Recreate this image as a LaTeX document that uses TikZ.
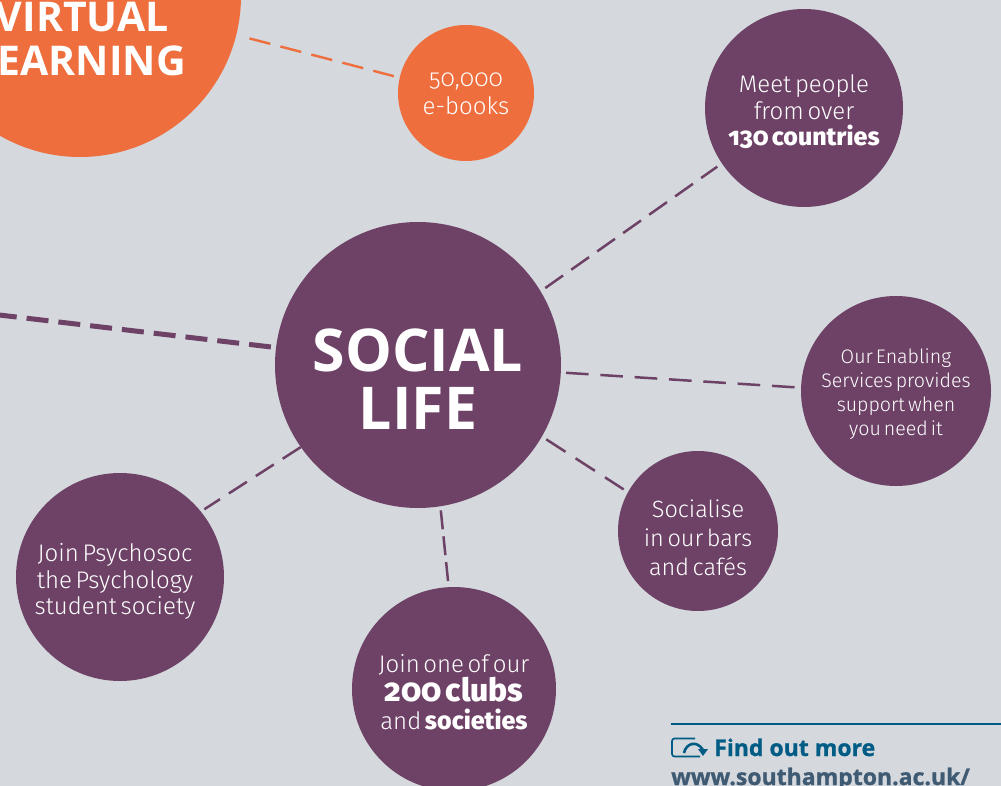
\documentclass[tikz,border=0pt]{standalone}
\usepackage{fontspec}
\setmainfont{Fira Sans Light}[BoldFont={Fira Sans ExtraBold},Numbers=OldStyle,WordSpace=0.55]
\newfontfamily\headfont{Open Sans}[BoldFont={Open Sans Bold}]
\newfontfamily\footfont{Open Sans Bold}[FakeBold=1]
\definecolor{bgc}{HTML}{D5D8DD}
\definecolor{plum}{HTML}{6D4266}
\definecolor{orangec}{HTML}{EE6E3E}
\definecolor{bluec}{HTML}{005C85}
\definecolor{urlc}{HTML}{3F5A73}
\newcommand{\fsl}[2]{\fontsize{#1}{#2}\selectfont}
\tikzset{
  bub/.style={circle,fill=plum,inner sep=0pt,minimum size=#1},
  obub/.style={circle,fill=orangec,inner sep=0pt,minimum size=#1},
  lbl/.style={text=white,inner sep=0pt,align=center},
  link/.style={draw=plum,line width=2.5pt},
  olink/.style={draw=orangec,line width=2.4pt,dash pattern=on 21.5pt off 10.5pt},
  heavylink/.style={draw=plum,line width=5pt,dash pattern=on 22pt off 10pt},
  head/.style={text=white,inner sep=0pt,font=\headfont\bfseries\fsl{41}{44}},
  foot/.style={inner sep=0pt,anchor=base west,font=\footfont\fsl{23}{28}}
}
\begin{document}
\begin{tikzpicture}[x=1pt,y=-1pt]
\useasboundingbox (0,0) rectangle (1001,786);
\clip (0,0) rectangle (1001,786);
\fill[bgc] (0,0) rectangle (1001,786);
% bubbles
\node[obub=322pt] (virtual) at (80,-4) {};
\node[obub=136pt] (books) at (466,93) {};
\node[bub=198pt] (meet) at (804,108) {};
\node[bub=286pt] (social) at (418,365) {};
\node[bub=190pt] (enabling) at (896,391) {};
\node[bub=160pt] (bars) at (698,531) {};
\node[bub=204pt] (clubs) at (454,689) {};
\node[bub=208pt] (psycho) at (120,577) {};
% labels
\node[head,anchor=base] (vt) at (82.5,32) {VIRTUAL};
\node[head,anchor=base east] (et) at (186,76) {EARNING};
\node[lbl,font=\fsl{24}{28}] (bookst) at (466,94) {50,000\\e-books};
\node[lbl,font=\fsl{24}{26.5}] (meett) at (804,112) {Meet people\\from over\\\textbf{\fontsize{25}{26.5}\selectfont 130 countries}};
\node[lbl,font=\headfont\bfseries\fsl{59}{58}] (socialt) at (418,379) {SOCIAL\\LIFE};
\node[lbl,font=\fsl{19.6}{24}] (enablingt) at (896,394.5) {Our Enabling\\Services provides\\support when\\you need it};
\node[lbl,font=\fsl{23.5}{29}] (barst) at (698,538) {Socialise\\in our bars\\and cafés};
\node[lbl,font=\fsl{24}{28.5}] (clubst) at (454,692.5) {Join one of our\\\textbf{\fontsize{32}{28.5}\selectfont 200 clubs}\\and \textbf{\fontsize{25}{28.5}\selectfont societies}};
\node[lbl,font=\fsl{24}{26.5}] (psychot) at (115,581.5) {Join Psychosoc\\the Psychology\\student society};
% connectors
\coordinate (offleft) at (-5,314.5);
\draw[link,dash pattern=on 21.8pt off 10pt,shorten <=5.5pt,shorten >=5.5pt] (social.31) -- (meet.214);
\draw[link,dash pattern=on 22.6pt off 11.8pt,shorten <=5pt,shorten >=5pt] (social.-3) -- (enabling.178);
\draw[link,dash pattern=on 23pt off 12pt,shorten <=5pt,shorten >=5pt] (social.-30) -- (bars.151);
\draw[link,dash pattern=on 19pt off 7pt,shorten <=4pt,shorten >=6pt] (social.-81.4) -- (clubs.93.7);
\draw[link,dash pattern=on 21.4pt off 10.6pt,shorten >=4pt] (social.215.8) -- (psycho.39);
\draw[heavylink,shorten <=5pt] (social.173.8) -- (offleft);
\draw[olink,shorten <=13.5pt,shorten >=5.8pt] (virtual.-14.6) -- (books.167.5);
% find out more
\coordinate (ruleL) at (671,724);
\coordinate (ruleR) at (1001,724);
\draw[bluec,line width=2.6pt] (ruleL) -- (ruleR);
\draw[bluec,line width=1.7pt,rounded corners=2.5pt] (695,738.5) -- (672,738.5) -- (672,756.5) -- (700,756.5);
\draw[bluec,line width=2.6pt] (684,753) .. controls (686,743) and (697,740) .. (703,750);
\fill[bluec] (698,749) -- (708,749) -- (703,756) -- cycle;
\node[foot,text=bluec] (find) at (714,756) {Find out more};
\node[foot,text=urlc] (url) at (671,785) {www.southampton.ac.uk/};
\end{tikzpicture}
\end{document}
